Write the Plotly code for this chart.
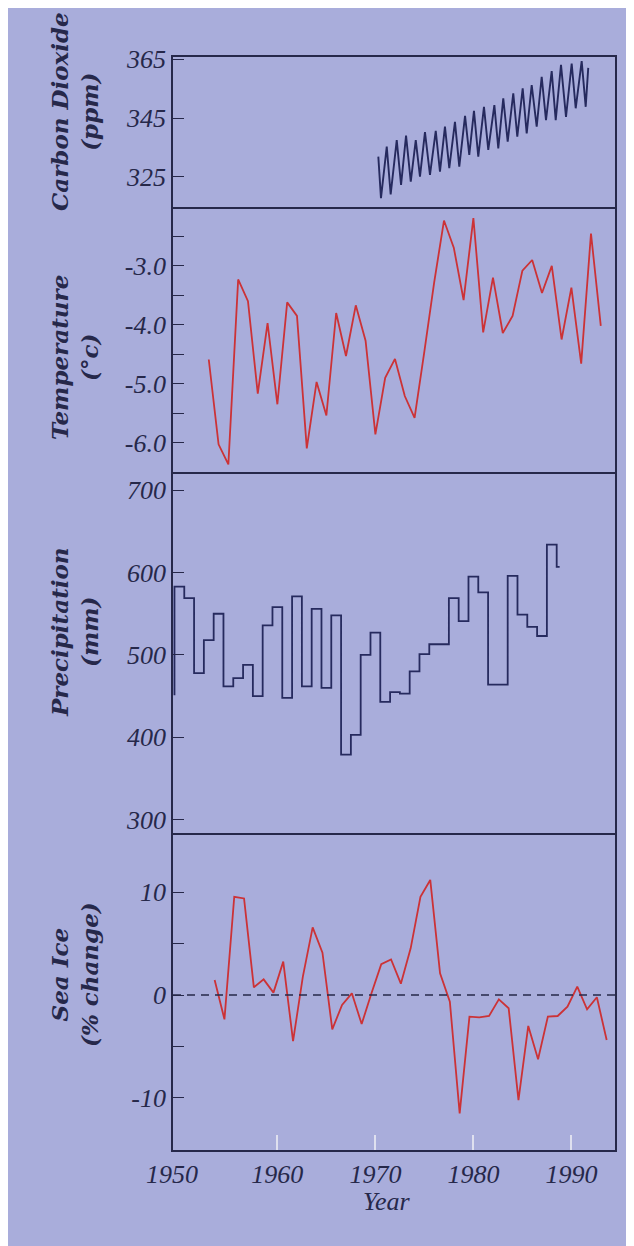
import plotly.graph_objects as go

# ---------------- data ----------------
co2_time = [1970.30, 1970.57, 1971.16, 1971.56, 1972.18, 1972.62, 1973.13, 1973.61,
            1974.12, 1974.55, 1975.06, 1975.57, 1976.16, 1976.59, 1977.10, 1977.54,
            1978.12, 1978.56, 1979.15, 1979.58, 1980.06, 1980.50, 1981.08, 1981.52,
            1982.14, 1982.54, 1983.05, 1983.50, 1984.07, 1984.48, 1985.03, 1985.44,
            1985.95, 1986.46, 1986.97, 1987.41, 1987.99, 1988.40, 1988.94, 1989.45,
            1990.03, 1990.44, 1991.05, 1991.46, 1991.72]
co2_ppm = [331.9, 317.8, 335.3, 319.1, 337.5, 322.3, 339.0, 323.4, 337.5, 325.1,
           340.2, 325.7, 340.6, 326.8, 342.1, 328.0, 343.7, 328.5, 345.7, 332.5,
           347.4, 331.9, 348.8, 334.2, 349.4, 334.7, 351.7, 337.0, 353.4, 338.7,
           355.1, 339.8, 356.2, 342.1, 359.0, 344.3, 360.9, 344.3, 363.0, 345.4,
           363.5, 348.3, 364.3, 348.8, 362.0]

temp_years = list(range(1953, 1994))
temperature_c = [-4.59, -6.03, -6.37, -3.23, -3.60, -5.17, -3.97, -5.35, -3.62, -3.85,
                 -6.10, -4.97, -5.54, -3.80, -4.53, -3.67, -4.27, -5.86, -4.90, -4.58,
                 -5.21, -5.58, -4.45, -3.28, -2.23, -2.69, -3.58, -2.19, -4.13, -3.20,
                 -4.14, -3.85, -3.08, -2.90, -3.46, -3.00, -4.25, -3.37, -4.66, -2.45,
                 -4.02]

precip_years = list(range(1949, 1990))
precip_mm = [451, 583, 569, 478, 518, 550, 462, 472, 488, 450, 536, 558, 448, 571,
             462, 556, 460, 548, 379, 403, 500, 527, 443, 455, 453, 480, 501, 513,
             513, 569, 541, 595, 576, 464, 464, 596, 549, 534, 523, 634, 607]
precip_record_end = 1988.8   # the record stops part-way through its last year

sea_ice_years = list(range(1953, 1994))
sea_ice_pct = [1.46, -2.36, 9.54, 9.38, 0.75, 1.52, 0.23, 3.24, -4.47, 1.78,
               6.57, 4.11, -3.33, -0.97, 0.16, -2.82, 0.16, 3.00, 3.46, 1.10,
               4.53, 9.54, 11.17, 2.10, -0.65, -11.49, -2.10, -2.17, -2.04, -0.42,
               -1.29, -10.20, -3.00, -6.24, -2.10, -2.04, -1.13, 0.81, -1.39, -0.22,
               -4.37]

year_ticks = [1960, 1970, 1980, 1990]
first_year_label = "1950"
co2_ticks = [325, 345, 365]
temp_ticks = [-6.0, -5.5, -5.0, -4.5, -4.0, -3.5, -3.0, -2.5]
temp_labels = ["-6.0", "", "-5.0", "", "-4.0", "", "-3.0", ""]
precip_ticks = [300, 400, 500, 600, 700]
ice_ticks = [-10, -5, 0, 5, 10]
ice_labels = ["-10", "", "0", "", "10"]

# ---------------- style ----------------
BG = "#a9addb"
INK = "#26284a"
NAVY = "#262a5e"
RED = "#cc3236"
W, H = 660, 1270
OFF = 8  # page (body) margin of the html document
L_PX, R_PX, T_PX, B_PX = 173 - OFF, 615 - OFF, 57 - OFF, 1150 - OFF


def ydom(top_px, bot_px):
    h = B_PX - T_PX
    return [(B_PX - (bot_px - OFF)) / h, (B_PX - (top_px - OFF)) / h]


def px_x(px):
    return (px - OFF - L_PX) / (R_PX - L_PX)


def px_y(py):
    return (B_PX - (py - OFF)) / (B_PX - T_PX)


tick_font = dict(family="Liberation Serif", size=26, color=INK, style="italic")
title_font = dict(family="DejaVu Serif", size=23, color=INK, style="italic", weight="bold")

fig = go.Figure()

fig.add_trace(go.Scatter(x=co2_time, y=co2_ppm, mode="lines",
                         line=dict(color=NAVY, width=1.9), xaxis="x4", yaxis="y4",
                         showlegend=False, hoverinfo="skip"))
fig.add_trace(go.Scatter(x=temp_years, y=temperature_c, mode="lines",
                         line=dict(color=RED, width=1.8), xaxis="x3", yaxis="y3",
                         showlegend=False, hoverinfo="skip"))
px_edges = [y + 0.5 for y in precip_years[:-1]] + [precip_record_end]
fig.add_trace(go.Scatter(x=px_edges, y=precip_mm, mode="lines",
                         line=dict(color=NAVY, width=1.8, shape="vh"),
                         xaxis="x2", yaxis="y2", showlegend=False, hoverinfo="skip"))
fig.add_trace(go.Scatter(x=[y + 0.6 for y in sea_ice_years], y=sea_ice_pct, mode="lines",
                         line=dict(color=RED, width=1.8), xaxis="x", yaxis="y",
                         showlegend=False, hoverinfo="skip"))

xr = [1949.35, 1994.45]
xline = dict(showline=True, linecolor=INK, linewidth=1.8, showgrid=False, zeroline=False)
yframe = dict(showline=True, linecolor=INK, linewidth=1.8, mirror=True,
              showgrid=False, zeroline=False)
ytick = dict(ticks="inside", ticklen=11, tickwidth=1.3, tickcolor=INK,
             tickfont=tick_font, ticklabelstandoff=0)

layout = dict(
    width=W, height=H,
    margin=dict(l=L_PX, r=W - R_PX, t=T_PX, b=H - B_PX, pad=0),
    paper_bgcolor=BG, plot_bgcolor=BG,
    xaxis=dict(range=xr, domain=[0, 1], anchor="y", tickvals=year_ticks,
               ticktext=[str(v) for v in year_ticks], ticks="inside", ticklen=15,
               tickwidth=1.5, tickcolor="#dfe0ef", tickfont=tick_font,
               ticklabelstandoff=0, mirror=False, **xline),
    xaxis2=dict(range=xr, matches="x", anchor="y2", showticklabels=False, ticks="",
                mirror=False, **xline),
    xaxis3=dict(range=xr, matches="x", anchor="y3", showticklabels=False, ticks="",
                mirror=False, **xline),
    xaxis4=dict(range=xr, matches="x", anchor="y4", showticklabels=False, ticks="",
                mirror=True, **xline),
    yaxis=dict(domain=ydom(833, 1150), range=[-15.05, 15.73], tickvals=ice_ticks,
               ticktext=ice_labels, anchor="x", **ytick, **yframe),
    yaxis2=dict(domain=ydom(472, 833), range=[284, 722], tickvals=precip_ticks,
                ticktext=[str(v) for v in precip_ticks], anchor="x2", **ytick, **yframe),
    yaxis3=dict(domain=ydom(207, 472), range=[-6.5, -2.0], tickvals=temp_ticks,
                ticktext=temp_labels, anchor="x3", **ytick, **yframe),
    yaxis4=dict(domain=ydom(57, 207), range=[314.8, 365.7], tickvals=co2_ticks,
                ticktext=[str(v) for v in co2_ticks], anchor="x4", **ytick, **yframe),
)
fig.update_layout(**layout)

fig.add_shape(type="line", xref="x domain", yref="y", x0=0, x1=1, y0=0, y1=0,
              line=dict(color=INK, width=1.6, dash="8px,6px"))

titles = [("Carbon Dioxide<br>(ppm)", 112), ("Temperature<br>(°c)", 358),
          ("Precipitation<br>(mm)", 632), ("Sea Ice<br>(% change)", 975)]
for txt, cy in titles:
    fig.add_annotation(text=txt, xref="paper", yref="paper", x=px_x(74), y=px_y(cy),
                       textangle=-90, showarrow=False, font=title_font,
                       xanchor="center", yanchor="middle")

# first year label sits right at the left frame, level with the other year labels
fig.add_annotation(text=first_year_label, xref="paper", yref="paper", x=px_x(172),
                   y=px_y(1174.5), showarrow=False, font=tick_font,
                   xanchor="center", yanchor="middle")

fig.add_annotation(text="Year", xref="paper", yref="paper", x=px_x(387), y=px_y(1201),
                   showarrow=False, font=tick_font,
                   xanchor="center", yanchor="middle")

fig.write_html("out.html")
